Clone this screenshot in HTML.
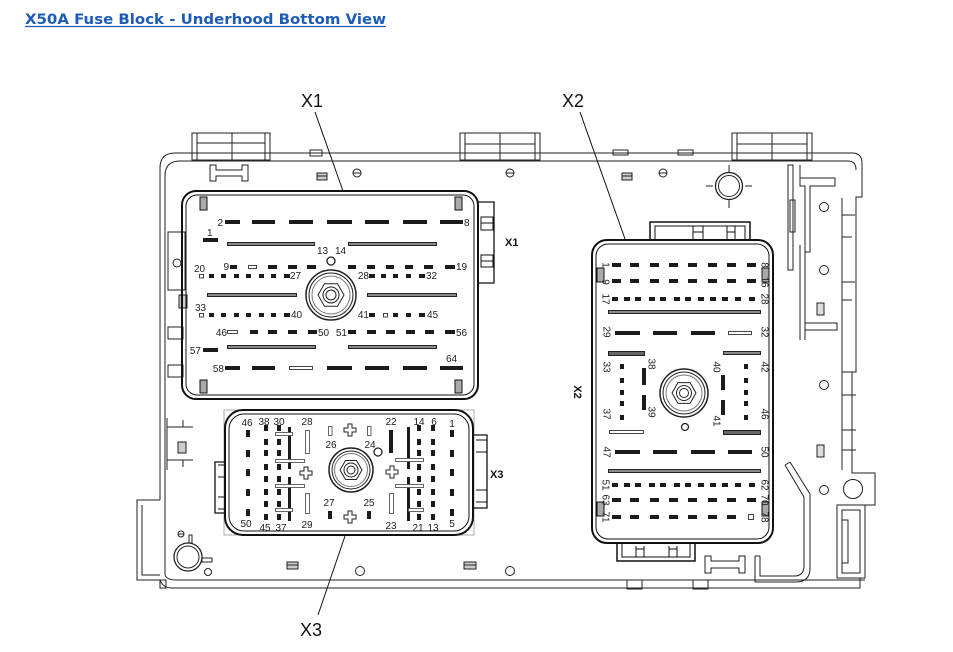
<!DOCTYPE html>
<html><head><meta charset="utf-8">
<style>
html,body{margin:0;padding:0;background:#fff;width:953px;height:652px;overflow:hidden}
svg{position:absolute;left:0;top:0}
.l{font-family:"Liberation Sans",Arial,sans-serif;font-size:10px;fill:#222}
.m{text-anchor:middle}
.e{text-anchor:end}
.r{text-anchor:middle;dominant-baseline:central}
.big{font-family:"Liberation Sans",Arial,sans-serif;font-size:18px;fill:#111}
.bl{font-family:"Liberation Sans",Arial,sans-serif;font-size:11px;font-weight:bold;fill:#111}
</style></head>
<body>
<svg width="953" height="652" viewBox="0 0 953 652" xmlns="http://www.w3.org/2000/svg">
<!-- Title -->
<text x="25" y="24" font-family="DejaVu Sans, Verdana, sans-serif" font-weight="bold" font-size="14.5" fill="#1c5cb8" textLength="361" lengthAdjust="spacingAndGlyphs">X50A Fuse Block - Underhood Bottom View</text>
<line x1="25" y1="26.5" x2="386" y2="26.5" stroke="#1c5cb8" stroke-width="1.3"/>

<g fill="none" stroke="#222" stroke-width="1">
<!-- top tabs -->
<rect x="192" y="133" width="78" height="27"/>
<line x1="232" y1="133" x2="232" y2="160"/>
<line x1="197" y1="133" x2="197" y2="160"/><line x1="265" y1="133" x2="265" y2="160"/>
<line x1="197" y1="143" x2="265" y2="143"/>
<rect x="460" y="133" width="80" height="27"/>
<line x1="500" y1="133" x2="500" y2="160"/>
<line x1="465" y1="133" x2="465" y2="160"/><line x1="535" y1="133" x2="535" y2="160"/>
<line x1="465" y1="144" x2="535" y2="144"/>
<rect x="732" y="133" width="80" height="27"/>
<line x1="772" y1="133" x2="772" y2="160"/>
<line x1="737" y1="133" x2="737" y2="160"/><line x1="807" y1="133" x2="807" y2="160"/>
<line x1="737" y1="144" x2="807" y2="144"/>
<rect x="310" y="150" width="12" height="6"/>
<rect x="613" y="150" width="15" height="5"/>
<rect x="678" y="150" width="15" height="5"/>

<!-- main body outline -->
<path d="M160,500 V168 Q160,153 175,153 H852 Q862,153 862,163 V197 H856 V372 H852 V473 H875 V505 H865 V578"/>
<path d="M165,575 V176 Q165,161 180,161 H848 Q856,161 856,170"/>
<path d="M160,500 H137 V580 H160"/>
<path d="M142,505 V575 H160"/>
<path d="M160,580 Q163,588 172,588 H860 V578"/>
<path d="M165,575 Q167,580 176,580 H865"/>
<rect x="627" y="580" width="15" height="9"/>
<rect x="693" y="580" width="15" height="9"/>
<rect x="160" y="580" width="6" height="8"/>

<!-- right side structure -->
<path d="M788,165 V270 H793 V165 Z"/>
<rect x="790" y="200" width="5" height="32"/>
<path d="M800,165 V178 H835 V186 H810 V252 H805 V186 H800 Z"/>
<path d="M800,245 V340 M805,252 V340"/>
<path d="M805,323 H837 V330 H805"/>
<path d="M842,198 V470"/>
<path d="M842,215 H855 M842,237 H852 M842,282 H855 M842,300 H852 M842,372 H855 M842,395 H856 M842,430 H856 M842,450 H856"/>
<rect x="837" y="505" width="28" height="73"/>
<rect x="842" y="510" width="18" height="63"/>
<path d="M842,520 H848 V563 H842"/>
<circle cx="853" cy="489" r="9.5"/>
<circle cx="824" cy="207" r="4.5"/>
<circle cx="824" cy="270" r="4.5"/>
<circle cx="824" cy="385" r="4.5"/>
<circle cx="824" cy="490" r="4.5"/>
<rect x="817" y="303" width="7" height="12" fill="#ddd"/>
<rect x="817" y="445" width="7" height="12" fill="#ddd"/>
<!-- wire -->
<path d="M785,465 L804,497 V566 Q804,576 794,576 H760 V556"/>
<path d="M790,462 L810,494 V568 Q810,582 796,582 H755 V556"/>
<path d="M785,465 L790,462 M755,556 H760"/>

<!-- top-right round feature -->
<circle cx="729" cy="186" r="13.5" stroke-width="1.3"/>
<circle cx="729" cy="186" r="10.5"/>
<path d="M729,165 V172 M729,200 V208 M706,186 H713 M745,186 H752"/>

<!-- minus circles -->
<circle cx="357" cy="173" r="4"/><line x1="353" y1="173" x2="361" y2="173"/>
<circle cx="510" cy="173" r="4"/><line x1="506" y1="173" x2="514" y2="173"/>
<circle cx="663" cy="173" r="4"/><line x1="659" y1="173" x2="667" y2="173"/>
<circle cx="360" cy="571" r="4.5"/>
<circle cx="510" cy="571" r="4.5"/>

<!-- small slot rects -->
<rect x="317" y="173" width="10" height="7" fill="#ccc"/><line x1="317" y1="176" x2="327" y2="176"/>
<rect x="622" y="173" width="10" height="7" fill="#ccc"/><line x1="622" y1="176" x2="632" y2="176"/>
<rect x="287" y="562" width="11" height="7" fill="#ccc"/><line x1="287" y1="565" x2="298" y2="565"/>
<rect x="464" y="562" width="12" height="7" fill="#ccc"/><line x1="464" y1="565" x2="476" y2="565"/>

<!-- I-beam latches -->
<path d="M210,165 H216 V170 H242 V165 H248 V181 H242 V176 H216 V181 H210 Z"/>
<path d="M705,556 H711 V561 H739 V556 H745 V573 H739 V568 H711 V573 H705 Z"/>

<!-- left side details -->
<rect x="168" y="232" width="17" height="58"/>
<circle cx="177" cy="263" r="4"/>
<rect x="179" y="295" width="8" height="13" fill="#ccc"/>
<rect x="168" y="327" width="15" height="12"/>
<rect x="168" y="365" width="15" height="12"/>
<path d="M167,418 V470 M167,427 H193 M167,460 H193 M183,420 V427 M183,460 V467"/>
<rect x="178" y="442" width="8" height="11" fill="#ccc"/>
<!-- bottom-left round -->
<circle cx="188" cy="557" r="14" stroke-width="1.3"/>
<circle cx="188" cy="557" r="11"/>
<circle cx="208" cy="572" r="3.5"/>
<circle cx="181" cy="534" r="3"/><line x1="178" y1="534" x2="184" y2="534"/>
<rect x="189" y="535" width="3" height="8"/>
<rect x="202" y="558" width="10" height="4"/>
</g>

<!-- ================= X1 ================= -->
<g fill="none" stroke="#111">
<rect x="182" y="191" width="296" height="208" rx="14" stroke-width="2"/>
<rect x="186" y="195" width="288" height="200" rx="11" stroke-width="1"/>
<path d="M478,202 H494 V283 H478" stroke-width="1.3"/>
<rect x="481" y="217" width="12" height="13" stroke-width="1"/>
<rect x="481" y="255" width="12" height="12" stroke-width="1"/>
<line x1="481" y1="223" x2="493" y2="223" stroke-width="1"/>
<line x1="481" y1="261" x2="493" y2="261" stroke-width="1"/>
<rect x="200" y="197" width="7" height="13" fill="#aaa" stroke-width="1"/>
<rect x="455" y="197" width="7" height="13" fill="#aaa" stroke-width="1"/>
<rect x="200" y="380" width="7" height="13" fill="#aaa" stroke-width="1"/>
<rect x="455" y="380" width="7" height="13" fill="#aaa" stroke-width="1"/>
</g>
<g fill="#1b1b1b">
<rect x="225" y="220" width="15" height="4"/><rect x="252" y="220" width="23" height="4"/><rect x="289" y="220" width="24" height="4"/><rect x="327" y="220" width="25" height="4"/><rect x="365" y="220" width="24" height="4"/><rect x="403" y="220" width="24" height="4"/><rect x="440" y="220" width="23" height="4"/>
<rect x="225" y="366" width="15" height="4"/><rect x="252" y="366" width="23" height="4"/><rect x="327" y="366" width="25" height="4"/><rect x="365" y="366" width="24" height="4"/><rect x="403" y="366" width="24" height="4"/><rect x="440" y="366" width="23" height="4"/>
<rect x="203" y="238" width="15" height="4"/>
<rect x="203" y="348" width="15" height="4"/>
<rect x="230" y="265" width="7" height="4"/><rect x="268" y="265" width="9" height="4"/><rect x="288" y="265" width="9" height="4"/><rect x="307" y="265" width="9" height="4"/>
<rect x="348" y="265" width="8" height="4"/><rect x="367" y="265" width="8" height="4"/><rect x="386" y="265" width="8" height="4"/><rect x="405" y="265" width="8" height="4"/><rect x="424" y="265" width="9" height="4"/><rect x="445" y="265" width="10" height="4"/>
<rect x="209" y="274" width="5" height="4"/><rect x="221" y="274" width="5" height="4"/><rect x="234" y="274" width="5" height="4"/><rect x="246" y="274" width="5" height="4"/><rect x="259" y="274" width="5" height="4"/><rect x="271" y="274" width="5" height="4"/><rect x="284" y="274" width="6" height="4"/>
<rect x="369" y="274" width="6" height="4"/><rect x="381" y="274" width="5" height="4"/><rect x="393" y="274" width="5" height="4"/><rect x="406" y="274" width="5" height="4"/><rect x="419" y="274" width="6" height="4"/>
<rect x="209" y="313" width="5" height="4"/><rect x="221" y="313" width="5" height="4"/><rect x="234" y="313" width="5" height="4"/><rect x="246" y="313" width="5" height="4"/><rect x="259" y="313" width="5" height="4"/><rect x="271" y="313" width="5" height="4"/><rect x="284" y="313" width="6" height="4"/>
<rect x="369" y="313" width="6" height="4"/><rect x="393" y="313" width="5" height="4"/><rect x="406" y="313" width="5" height="4"/><rect x="419" y="313" width="6" height="4"/>
<rect x="250" y="330" width="8" height="4"/><rect x="268" y="330" width="9" height="4"/><rect x="288" y="330" width="9" height="4"/><rect x="308" y="330" width="9" height="4"/>
<rect x="348" y="330" width="8" height="4"/><rect x="367" y="330" width="9" height="4"/><rect x="386" y="330" width="9" height="4"/><rect x="406" y="330" width="9" height="4"/><rect x="425" y="330" width="9" height="4"/><rect x="445" y="330" width="10" height="4"/>
</g>
<g fill="#fff" stroke="#333" stroke-width="0.9">
<rect x="289.5" y="366.5" width="23" height="3"/>
<rect x="248.5" y="265.5" width="8" height="3"/>
<rect x="199.5" y="274.5" width="4" height="3.5"/>
<rect x="199.5" y="313.5" width="4" height="3.5"/>
<rect x="383.5" y="313.5" width="4" height="3.5"/>
<rect x="227.5" y="330.5" width="10" height="3"/>
</g>
<g fill="#8a8a8a" stroke="#111" stroke-width="0.9">
<rect x="227.5" y="242.5" width="87" height="3"/><rect x="348.5" y="242.5" width="88" height="3"/>
<rect x="207.5" y="293.5" width="89" height="3"/><rect x="367.5" y="293.5" width="89" height="3"/>
<rect x="227.5" y="345.5" width="88" height="3"/><rect x="348.5" y="345.5" width="88" height="3"/>
</g>
<g fill="none" stroke="#222">
<circle cx="331" cy="261" r="4" stroke-width="1.3"/>
<circle cx="331" cy="295" r="25" stroke-width="1.5"/>
<circle cx="331" cy="295" r="22"/>
<circle cx="331" cy="295" r="19" stroke="#777"/>
<polygon points="344,295 337.5,306.3 324.5,306.3 318,295 324.5,283.7 337.5,283.7"/>
<circle cx="331" cy="295" r="8"/>
<circle cx="331" cy="295" r="5"/>
</g>
<g class="l">
<text x="223" y="226" class="e">2</text>
<text x="464" y="226">8</text>
<text x="207" y="236">1</text>
<text x="229" y="270" class="e">9</text>
<text x="317" y="254">13</text>
<text x="335" y="254">14</text>
<text x="456" y="270">19</text>
<text x="194" y="272">20</text>
<text x="290" y="279">27</text>
<text x="369" y="279" class="e">28</text>
<text x="426" y="279">32</text>
<text x="195" y="311">33</text>
<text x="291" y="318">40</text>
<text x="369" y="318" class="e">41</text>
<text x="427" y="318">45</text>
<text x="227" y="336" class="e">46</text>
<text x="318" y="336">50</text>
<text x="347" y="336" class="e">51</text>
<text x="456" y="336">56</text>
<text x="201" y="354" class="e">57</text>
<text x="224" y="372" class="e">58</text>
<text x="446" y="362">64</text>
</g>
<text x="505" y="246" class="bl">X1</text>

<!-- ================= X2 ================= -->
<g fill="none" stroke="#111">
<rect x="592" y="240" width="181" height="303" rx="15" stroke-width="2"/>
<rect x="596" y="244" width="173" height="295" rx="12" stroke-width="1"/>
<path d="M650,240 V222 H750 V240" stroke-width="1.5"/>
<path d="M655,240 V226 H745 V240" stroke-width="1"/>
<path d="M693,226 V240 M703,226 V240 M727,226 V240 M735,226 V240 M693,232 H703 M727,232 H735" stroke-width="1"/>
<path d="M617,543 V561 H695 V543" stroke-width="1.5"/>
<path d="M622,543 V557 H690 V543" stroke-width="1"/>
<path d="M636,546 V557 M644,546 V557 M669,546 V557 M677,546 V557 M636,549 H644 M669,549 H677" stroke-width="1"/>
<rect x="597" y="268" width="7" height="14" fill="#aaa" stroke-width="1"/>
<rect x="762" y="268" width="7" height="14" fill="#aaa" stroke-width="1"/>
<rect x="597" y="502" width="7" height="14" fill="#aaa" stroke-width="1"/>
<rect x="762" y="502" width="7" height="14" fill="#aaa" stroke-width="1"/>
</g>
<g fill="#1b1b1b">
<rect x="612" y="263" width="9" height="4"/><rect x="630" y="263" width="9" height="4"/><rect x="650" y="263" width="9" height="4"/><rect x="669" y="263" width="9" height="4"/><rect x="688" y="263" width="9" height="4"/><rect x="708" y="263" width="9" height="4"/><rect x="727" y="263" width="9" height="4"/><rect x="747" y="263" width="9" height="4"/>
<rect x="612" y="279" width="9" height="4"/><rect x="630" y="279" width="9" height="4"/><rect x="650" y="279" width="9" height="4"/><rect x="669" y="279" width="9" height="4"/><rect x="688" y="279" width="9" height="4"/><rect x="708" y="279" width="9" height="4"/><rect x="727" y="279" width="9" height="4"/><rect x="747" y="279" width="9" height="4"/>
<rect x="612" y="297" width="6" height="4"/><rect x="624" y="297" width="6" height="4"/><rect x="635" y="297" width="6" height="4"/><rect x="649" y="297" width="6" height="4"/><rect x="660" y="297" width="6" height="4"/><rect x="674" y="297" width="6" height="4"/><rect x="685" y="297" width="6" height="4"/><rect x="698" y="297" width="6" height="4"/><rect x="710" y="297" width="6" height="4"/><rect x="722" y="297" width="6" height="4"/><rect x="735" y="297" width="6" height="4"/><rect x="749" y="297" width="6" height="4"/>
<rect x="615" y="331" width="25" height="4"/><rect x="653" y="331" width="24" height="4"/><rect x="691" y="331" width="24" height="4"/>
<rect x="615" y="450" width="25" height="4"/><rect x="653" y="450" width="24" height="4"/><rect x="691" y="450" width="24" height="4"/><rect x="728" y="450" width="24" height="4"/>
<rect x="620" y="364" width="4" height="5"/><rect x="620" y="378" width="4" height="5"/><rect x="620" y="390" width="4" height="5"/><rect x="620" y="401" width="4" height="5"/><rect x="620" y="415" width="4" height="5"/>
<rect x="744" y="364" width="4" height="5"/><rect x="744" y="378" width="4" height="5"/><rect x="744" y="390" width="4" height="5"/><rect x="744" y="401" width="4" height="5"/><rect x="744" y="415" width="4" height="5"/>
<rect x="642" y="368" width="4" height="17"/><rect x="642" y="395" width="4" height="15"/>
<rect x="721" y="375" width="4" height="15"/><rect x="721" y="400" width="4" height="15"/>
<rect x="612" y="483" width="6" height="4"/><rect x="624" y="483" width="6" height="4"/><rect x="635" y="483" width="6" height="4"/><rect x="649" y="483" width="6" height="4"/><rect x="660" y="483" width="6" height="4"/><rect x="674" y="483" width="6" height="4"/><rect x="685" y="483" width="6" height="4"/><rect x="698" y="483" width="6" height="4"/><rect x="710" y="483" width="6" height="4"/><rect x="722" y="483" width="6" height="4"/><rect x="735" y="483" width="6" height="4"/><rect x="749" y="483" width="6" height="4"/>
<rect x="612" y="498" width="9" height="4"/><rect x="630" y="498" width="9" height="4"/><rect x="650" y="498" width="9" height="4"/><rect x="669" y="498" width="9" height="4"/><rect x="688" y="498" width="9" height="4"/><rect x="708" y="498" width="9" height="4"/><rect x="727" y="498" width="9" height="4"/><rect x="747" y="498" width="9" height="4"/>
<rect x="612" y="515" width="9" height="4"/><rect x="630" y="515" width="9" height="4"/><rect x="650" y="515" width="9" height="4"/><rect x="669" y="515" width="9" height="4"/><rect x="688" y="515" width="9" height="4"/><rect x="708" y="515" width="9" height="4"/><rect x="727" y="515" width="9" height="4"/>
</g>
<g fill="#fff" stroke="#333" stroke-width="0.9">
<rect x="728.5" y="331.5" width="23" height="3"/>
<rect x="609.5" y="430.5" width="34" height="3"/>
<rect x="748.5" y="514.5" width="5" height="5"/>
</g>
<g fill="#8a8a8a" stroke="#111" stroke-width="0.9">
<rect x="608.5" y="310.5" width="152" height="3"/>
<rect x="608.5" y="469.5" width="152" height="3"/>
<rect x="608.5" y="351.5" width="36" height="4" fill="#666"/>
<rect x="723.5" y="351.5" width="37" height="3"/>
<rect x="723.5" y="430.5" width="37" height="4" fill="#666"/>
</g>
<g fill="none" stroke="#222">
<circle cx="685" cy="427" r="3.5" stroke-width="1.3"/>
<circle cx="684" cy="393" r="24" stroke-width="1.5"/>
<circle cx="684" cy="393" r="21"/>
<circle cx="684" cy="393" r="18" stroke="#777"/>
<polygon points="696,393 690,403.4 678,403.4 672,393 678,382.6 690,382.6"/>
<circle cx="684" cy="393" r="7.5"/>
<circle cx="684" cy="393" r="4.5"/>
</g>
<g class="l r">
<text transform="translate(605,265) rotate(90)">1</text>
<text transform="translate(605,282) rotate(90)">9</text>
<text transform="translate(605,299) rotate(90)">17</text>
<text transform="translate(764,265) rotate(90)">8</text>
<text transform="translate(764,282) rotate(90)">16</text>
<text transform="translate(764,299) rotate(90)">28</text>
<text transform="translate(606,332) rotate(90)">29</text>
<text transform="translate(764,332) rotate(90)">32</text>
<text transform="translate(606,367) rotate(90)">33</text>
<text transform="translate(764,367) rotate(90)">42</text>
<text transform="translate(606,414) rotate(90)">37</text>
<text transform="translate(764,414) rotate(90)">46</text>
<text transform="translate(651,364) rotate(90)">38</text>
<text transform="translate(651,412) rotate(90)">39</text>
<text transform="translate(716,367) rotate(90)">40</text>
<text transform="translate(716,421) rotate(90)">41</text>
<text transform="translate(606,452) rotate(90)">47</text>
<text transform="translate(764,452) rotate(90)">50</text>
<text transform="translate(605,485) rotate(90)">51</text>
<text transform="translate(764,485) rotate(90)">62</text>
<text transform="translate(605,500) rotate(90)">63</text>
<text transform="translate(764,500) rotate(90)">70</text>
<text transform="translate(605,517) rotate(90)">71</text>
<text transform="translate(764,517) rotate(90)">78</text>
</g>
<text transform="translate(577,392) rotate(90)" class="bl r">X2</text>

<!-- ================= X3 ================= -->
<g fill="none" stroke="#111">
<rect x="224" y="410" width="250" height="125" stroke="#999" stroke-width="0.8"/>
<rect x="225" y="410" width="248" height="125" rx="18" stroke-width="2"/>
<rect x="229" y="414" width="240" height="117" rx="15" stroke-width="1"/>
<path d="M473,435 H487 V508 H473" stroke-width="1.3"/>
<path d="M476,440 H487 M476,452 H487 M476,490 H487 M476,502 H487" stroke-width="1"/>
<path d="M225,462 H215 V513 H225" stroke-width="1.3"/>
<path d="M218,465 H225 M218,477 H225 M218,497 H225 M218,509 H225" stroke-width="1"/>
</g>
<g fill="#1b1b1b">
<rect x="246" y="430" width="4" height="7"/><rect x="246" y="450" width="4" height="7"/><rect x="246" y="469" width="4" height="7"/><rect x="246" y="489" width="4" height="7"/><rect x="246" y="509" width="4" height="7"/>
<rect x="264" y="425" width="4" height="6"/><rect x="264" y="439" width="4" height="6"/><rect x="264" y="450" width="4" height="6"/><rect x="264" y="464" width="4" height="6"/><rect x="264" y="476" width="4" height="6"/><rect x="264" y="489" width="4" height="6"/><rect x="264" y="501" width="4" height="6"/><rect x="264" y="514" width="4" height="6"/>
<rect x="277" y="425" width="4" height="6"/><rect x="277" y="439" width="4" height="6"/><rect x="277" y="450" width="4" height="6"/><rect x="277" y="464" width="4" height="6"/><rect x="277" y="476" width="4" height="6"/><rect x="277" y="489" width="4" height="6"/><rect x="277" y="501" width="4" height="6"/><rect x="277" y="514" width="4" height="6"/>
<rect x="417" y="425" width="4" height="6"/><rect x="417" y="439" width="4" height="6"/><rect x="417" y="450" width="4" height="6"/><rect x="417" y="464" width="4" height="6"/><rect x="417" y="476" width="4" height="6"/><rect x="417" y="489" width="4" height="6"/><rect x="417" y="501" width="4" height="6"/><rect x="417" y="514" width="4" height="6"/>
<rect x="431" y="425" width="4" height="6"/><rect x="431" y="439" width="4" height="6"/><rect x="431" y="450" width="4" height="6"/><rect x="431" y="464" width="4" height="6"/><rect x="431" y="476" width="4" height="6"/><rect x="431" y="489" width="4" height="6"/><rect x="431" y="501" width="4" height="6"/><rect x="431" y="514" width="4" height="6"/>
<rect x="450" y="430" width="4" height="7"/><rect x="450" y="450" width="4" height="7"/><rect x="450" y="469" width="4" height="7"/><rect x="450" y="489" width="4" height="7"/><rect x="450" y="509" width="4" height="7"/>
<rect x="288" y="427" width="3" height="42"/><rect x="288" y="477" width="3" height="44"/>
<rect x="407" y="427" width="3" height="42"/><rect x="407" y="477" width="3" height="44"/>
<rect x="389" y="430" width="4" height="23"/>
<rect x="328" y="511" width="4" height="8"/><rect x="367" y="511" width="4" height="8"/>
</g>
<g fill="#fff" stroke="#555" stroke-width="0.9">
<rect x="275.5" y="432.5" width="17" height="3"/>
<rect x="275.5" y="459.5" width="29" height="3"/>
<rect x="275.5" y="484.5" width="29" height="3"/>
<rect x="275.5" y="508.5" width="17" height="3"/>
<rect x="395.5" y="458.5" width="28" height="3"/>
<rect x="395.5" y="484.5" width="28" height="3"/>
<rect x="408.5" y="508.5" width="15" height="3"/>
<rect x="305.5" y="430.5" width="4" height="23"/>
<rect x="305.5" y="493.5" width="4" height="20"/>
<rect x="389.5" y="493.5" width="4" height="20"/>
<rect x="328.5" y="426.5" width="3.5" height="9"/>
<rect x="367.5" y="426.5" width="3.5" height="9"/>
</g>
<g fill="#fff" stroke="#222" stroke-width="1">
<path d="M304,467 h4 v4 h4 v4 h-4 v4 h-4 v-4 h-4 v-4 h4 z"/>
<path d="M348,424 h4 v4 h4 v4 h-4 v4 h-4 v-4 h-4 v-4 h4 z"/>
<path d="M348,511 h4 v4 h4 v4 h-4 v4 h-4 v-4 h-4 v-4 h4 z"/>
<path d="M390,466 h4 v4 h4 v4 h-4 v4 h-4 v-4 h-4 v-4 h4 z"/>
</g>
<g fill="none" stroke="#222">
<circle cx="378" cy="452" r="4" stroke-width="1.3"/>
<circle cx="351" cy="470" r="22" stroke-width="1.5"/>
<circle cx="351" cy="470" r="19"/>
<circle cx="351" cy="470" r="16.5" stroke="#777"/>
<polygon points="362,470 356.5,479.5 345.5,479.5 340,470 345.5,460.5 356.5,460.5"/>
<circle cx="351" cy="470" r="7"/>
<circle cx="351" cy="470" r="4"/>
</g>
<g class="l m">
<text x="247" y="426">46</text>
<text x="264" y="425">38</text>
<text x="279" y="425">30</text>
<text x="307" y="425">28</text>
<text x="391" y="425">22</text>
<text x="419" y="425">14</text>
<text x="434" y="425">6</text>
<text x="452" y="427">1</text>
<text x="331" y="448">26</text>
<text x="370" y="448">24</text>
<text x="329" y="506">27</text>
<text x="369" y="506">25</text>
<text x="246" y="527">50</text>
<text x="265" y="531">45</text>
<text x="281" y="531">37</text>
<text x="307" y="528">29</text>
<text x="391" y="529">23</text>
<text x="418" y="531">21</text>
<text x="433" y="531">13</text>
<text x="452" y="527">5</text>
</g>
<text x="490" y="478" class="bl">X3</text>

<!-- callouts -->
<g stroke="#111" stroke-width="1">
<line x1="315" y1="112" x2="343" y2="191"/>
<line x1="580" y1="112" x2="625" y2="239"/>
<line x1="345" y1="536" x2="318" y2="615"/>
</g>
<text x="301" y="107" class="big">X1</text>
<text x="562" y="107" class="big">X2</text>
<text x="300" y="636" class="big">X3</text>
</svg>
</body></html>
